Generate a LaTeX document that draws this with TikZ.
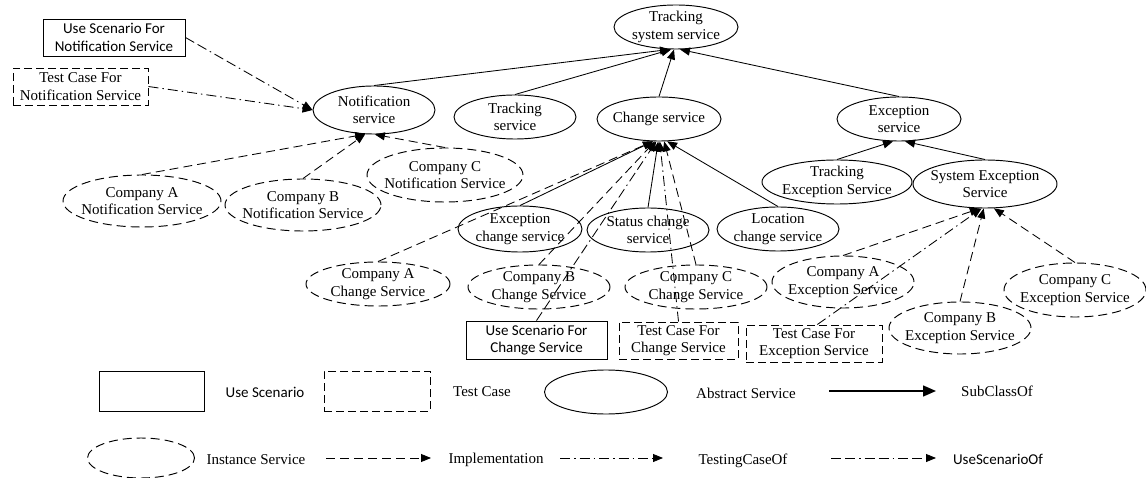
\documentclass[tikz,border=0pt]{standalone}
\usepackage{fontspec}
\setmainfont{Liberation Serif}
\newfontfamily\calib{Carlito}
\usetikzlibrary{shapes.geometric,arrows.meta}

\begin{document}
\begin{tikzpicture}[x=1pt,y=-1pt,
  every node/.style={font=\fontsize{15}{17.5}\selectfont},
  shp/.style={line width=0.95pt},
  abs/.style={shp, draw, ellipse, inner sep=0pt},
  inst/.style={abs, dash pattern=on 9pt off 5pt},
  tx/.style={align=center, inner sep=0pt},
  abse/.style n args={3}{abs, minimum width=#1pt, minimum height=#2pt, label={[tx]center:{#3}}},
  inse/.style n args={3}{inst, minimum width=#1pt, minimum height=#2pt, label={[tx]center:{#3}}},
  usebox/.style={shp, draw, rectangle, align=center, inner sep=0pt, font=\calib\fontsize{15}{17.5}\selectfont},
  testbox/.style={shp, draw, rectangle, align=center, inner sep=0pt, dash pattern=on 8pt off 4pt},
  link/.style={line width=0.85pt, -{Triangle[length=10pt,width=8pt]}},
  sub/.style={link},
  impl/.style={link, dash pattern=on 9pt off 5pt},
  testof/.style={link, dash pattern=on 10pt off 4pt on 1.5pt off 4pt},
  useof/.style={link, dash pattern=on 10pt off 4pt on 10pt off 4pt on 1.5pt off 4pt},
  legtext/.style={inner sep=0pt},
  legsans/.style={inner sep=0pt, font=\calib\fontsize{15}{17.5}\selectfont},
]
\useasboundingbox (0,0) rectangle (1146,478);

% abstract services
\node[abse={124}{44}{Tracking\\system service}] (tss) at (676,27) {};
\node[abse={122}{48}{Notification\\service}] (notif) at (374,110) {};
\node[abse={122}{44}{Tracking\\service}] (trk) at (515,117) {};
\node[abse={124}{44}{Change service}] (chg) at (659,119) {};
\node[abse={124}{44}{Exception\\service}] (exc) at (899,119) {};
\node[abse={150}{44}{Tracking\\Exception Service}] (tes) at (837,182) {};
\node[abse={144}{48}{System Exception\\Service}] (ses) at (985,184) {};
\node[abse={124}{46}{Exception\\change service}] (ecs) at (520,229) {};
\node[abse={122}{44}{Status change\\service}] (scs) at (648,230) {};
\node[abse={122}{44}{Location\\change service}] (loc) at (778,229) {};

% instance services
\node[inse={158}{52}{Company A\\Notification Service}] (can) at (142,201) {};
\node[inse={156}{52}{Company B\\Notification Service}] (cbn) at (303,205) {};
\node[inse={156}{54}{Company C\\Notification Service}] (ccn) at (445,175) {};
\node[inse={144}{44}{Company A\\Change Service}] (cac) at (378,284) {};
\node[inse={142}{44}{Company B\\Change Service}] (cbc) at (539,287) {};
\node[inse={142}{44}{Company C\\Change Service}] (ccc) at (696,287) {};
\node[inse={142}{52}{Company A\\Exception Service}] (cae) at (843,282) {};
\node[inse={142}{52}{Company B\\Exception Service}] (cbe) at (960,328) {};
\node[inse={142}{54}{Company C\\Exception Service}] (cce) at (1075,290) {};

% use scenarios and test cases
\node[usebox, minimum width=142pt, minimum height=37pt] (usn) at (114,37.5) {Use Scenario For\\Notification Service};
\node[testbox, minimum width=135pt, minimum height=37pt] (tcn) at (80.5,86.5) {Test Case For\\Notification Service};
\node[usebox, minimum width=141pt, minimum height=38pt] (usc) at (536.5,340) {Use Scenario For\\Change Service};
\node[testbox, minimum width=119pt, minimum height=37pt] (tcc) at (678.5,340.5) {Test Case For\\Change Service};
\node[testbox, minimum width=136pt, minimum height=37pt] (tce) at (814,343.5) {Test Case For\\Exception Service};

% SubClassOf
\draw[sub] (notif.north) -- (tss.255);
\draw[sub] (trk.north) -- (tss.258);
\draw[sub] (chg.north) -- (tss.265);
\draw[sub] (exc.north) -- (tss.280);
\draw[sub] (tes.north) -- (exc.255);
\draw[sub] (ses.north) -- (exc.285);
\draw[sub] (ecs.north) -- (chg.255);
\draw[sub] (scs.north) -- (chg.268);
\draw[sub] (loc.north) -- (chg.290);

% Implementation
\draw[impl] (can.north) -- (notif.250);
\draw[impl] (cbn.north) -- (notif.250);
\draw[impl] (ccn.north) -- (notif.272);
\draw[impl] (cac.north) -- (chg.255);
\draw[impl] (cbc.north) -- (chg.260);
\draw[impl] (ccc.north) -- (chg.283);
\draw[impl] (cae.north) -- (ses.258);
\draw[impl] (cbe.north) -- (ses.267);
\draw[impl] (cce.north) -- (ses.290);

% TestingCaseOf
\draw[testof] (tcn.east) -- (notif.west);
\draw[testof] (tcc.north) -- (chg.272);
\draw[testof] (tce.80) -- (ses.262);

% UseScenarioOf
\draw[useof] (usn.east) -- (notif.west);
\draw[useof] (usc.north) -- (chg.263);

% legend
\node[shp, draw, minimum width=105pt, minimum height=40pt] (lus) at (151.5,391) {};
\node[legsans] (lusT) at (265,392) {Use Scenario};
\node[shp, draw, dash pattern=on 8pt off 4pt, minimum width=106pt, minimum height=40pt] (ltc) at (377,391) {};
\node[legtext] (ltcT) at (482,392) {Test Case};
\node[abs, minimum width=123pt, minimum height=44pt] (lab) at (606,392) {};
\node[legtext] (labT) at (746,393) {Abstract Service};
\coordinate (sa) at (829,391);
\coordinate (sb) at (936,391);
\draw[line width=1.5pt, -{Triangle[length=13pt,width=11pt]}] (sa) -- (sb);
\node[legtext] (subT) at (997,391) {SubClassOf};

\node[inst, minimum width=107pt, minimum height=40pt] (lin) at (141,458) {};
\node[legtext] (linT) at (256,460) {Instance Service};
\coordinate (ia) at (326,458);
\coordinate (ib) at (431,458);
\draw[impl] (ia) -- (ib);
\node[legtext] (implT) at (496,460) {Implementation};
\coordinate (ta) at (560,458);
\coordinate (tb) at (663,458);
\draw[testof] (ta) -- (tb);
\node[legtext] (testT) at (743,461) {TestingCaseOf};
\coordinate (ua) at (831,458);
\coordinate (ub) at (936,458);
\draw[useof] (ua) -- (ub);
\node[legsans] (useT) at (998,459) {UseScenarioOf};
\end{tikzpicture}
\end{document}
